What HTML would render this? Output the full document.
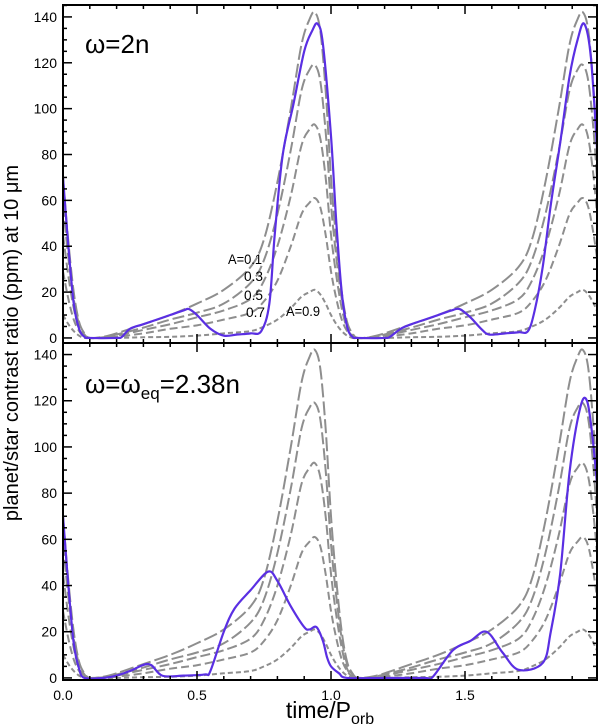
<!DOCTYPE html>
<html><head><meta charset="utf-8">
<style>
html,body{margin:0;padding:0;background:#fff;}
svg{display:block;font-family:"Liberation Sans",sans-serif;}
</style></head>
<body>
<svg id="chart" width="600" height="725" viewBox="0 0 600 725">
<defs>
<clipPath id="clipTop"><rect x="63" y="5" width="534" height="338"/></clipPath>
<clipPath id="clipBot"><rect x="63" y="343" width="534" height="337"/></clipPath>
</defs>
<g id="top"></g>
<g id="bot"></g>
<text x="18" y="343" font-size="20" text-anchor="middle" transform="rotate(-90 18 343)">planet/star contrast ratio (ppm) at 10 μm</text>
<text x="330" y="718" font-size="23" text-anchor="middle">time/P<tspan font-size="16" dy="6">orb</tspan></text>
<text x="85" y="53" font-size="26">ω=2n</text>
<text x="85" y="393" font-size="26">ω=ω<tspan font-size="17" dy="6">eq</tspan><tspan dy="-6">=2.38n</tspan></text>
<text x="228" y="264" font-size="14" textLength="34" lengthAdjust="spacingAndGlyphs">A=0.1</text>
<text x="244" y="281" font-size="14" textLength="19" lengthAdjust="spacingAndGlyphs">0.3</text>
<text x="244" y="300" font-size="14" textLength="19" lengthAdjust="spacingAndGlyphs">0.5</text>
<text x="246" y="317" font-size="14" textLength="19" lengthAdjust="spacingAndGlyphs">0.7</text>
<text x="286" y="316" font-size="14" textLength="34" lengthAdjust="spacingAndGlyphs">A=0.9</text>
</svg>
<script>
// one-period gray model curves (t within a cycle)
const grayT   = [0,0.02,0.04,0.06,0.08,0.1,0.15,0.2,0.3,0.4,0.5,0.6,0.7,0.75,0.8,0.85,0.89,0.92,0.94,0.96,0.98];
const grayA01 = [70,42,20,7,2,0,0.5,2,6,10,15,21,31,43,68,100,128,139,142,134,108];
const grayA03 = [58,35,17,6,1.5,0,0.3,1.5,4.5,8,11,15,24,34,54,82,108,117,119,112,90];
const grayA05 = [45,27,13,4,1,0,0.2,1,3.5,6,9,12,17,25,40,62,84,91,93,87,70];
const grayA07 = [29,17,8,3,0.5,0,0,0.5,2,4,5.5,8,11,16,25,40,54,59,61,57,45];
const grayA09 = [10,6,3,1,0,0,0,0,0.3,0.5,1,2,3,5,8,13,18,20,21,19,15];
const grayLabels = ["a-0.1","a-0.3","a-0.5","a-0.7","a-0.9"];
// top panel blue (omega = 2n)
const topBlueT = [0,0.02,0.04,0.06,0.08,0.1,0.2,0.22,0.25,0.3,0.35,0.4,0.45,0.47,0.5,0.55,0.6,0.65,0.7,0.74,0.77,0.79,0.82,0.86,0.9,0.93,0.95,0.97,1.0,1.02,1.04,1.06,1.08,1.1,1.2,1.22,1.26,1.3,1.35,1.4,1.45,1.48,1.52,1.56,1.59,1.65,1.7,1.735,1.76,1.79,1.82,1.855,1.89,1.92,1.945,1.97,1.995];
const topBlueV = [70,40,15,4,0.5,0,0,0.5,4,6,8,10,12,12.6,10,4,1,1.5,2,3,15,45,80,102,125,134,137,128,88,50,20,5,0.5,0,0,0.5,4,6,8,10,12,12.6,9,4,1.5,2,2.5,3,12,31,58,85,114,130,137,122,78];
// bottom panel blue (omega = omega_eq)
const botBlueT = [0,0.02,0.04,0.06,0.08,0.15,0.2,0.25,0.32,0.37,0.45,0.53,0.55,0.6,0.64,0.7,0.765,0.8,0.85,0.9,0.92,0.946,0.97,0.985,1.0,1.03,1.06,1.2,1.35,1.38,1.455,1.52,1.58,1.64,1.70,1.79,1.82,1.855,1.89,1.93,1.955,1.975,1.995];
const botBlueV = [70,40,15,4,0,0,1,3,6,1,1,1.5,3,20,30,38,46,42,31,22,21,22,16,9,5,2,0,0,0,0.5,12,16,20,11,3.5,6.5,20,45,89,117,120,105,81];
// tick labels
const yTicks = [0,20,40,60,80,100,120,140];
const xTicks = [0,0.5,1.0,1.5];
const xTickLabels = ["0.0","0.5","1.0","1.5"];

const NS="http://www.w3.org/2000/svg";
const X0=63,X1=597,TMAX=1.9925;
function sx(t){return X0+(t/TMAX)*(X1-X0);}
const panels={
 top:{g:document.getElementById('top'),top:5,bot:343,ymin:-2.2,ymax:145.2,clip:'clipTop'},
 bot:{g:document.getElementById('bot'),top:343,bot:680,ymin:-0.9,ymax:145,clip:'clipBot'}
};
function sy(p,v){return p.bot-(v-p.ymin)/(p.ymax-p.ymin)*(p.bot-p.top);}
function mk(tag,attrs,parent){const e=document.createElementNS(NS,tag);for(const k in attrs)e.setAttribute(k,attrs[k]);parent.appendChild(e);return e;}
function pathFrom(pts){
 let d="M"+pts[0][0].toFixed(2)+","+pts[0][1].toFixed(2);
 for(let i=0;i<pts.length-1;i++){
  const p0=pts[i-1]||pts[i],p1=pts[i],p2=pts[i+1],p3=pts[i+2]||p2;
  const c1=[p1[0]+(p2[0]-p0[0])/6,p1[1]+(p2[1]-p0[1])/6];
  const c2=[p2[0]-(p3[0]-p1[0])/6,p2[1]-(p3[1]-p1[1])/6];
  d+="C"+c1[0].toFixed(2)+","+c1[1].toFixed(2)+" "+c2[0].toFixed(2)+","+c2[1].toFixed(2)+" "+p2[0].toFixed(2)+","+p2[1].toFixed(2);
 }
 return d;
}
const grays=[grayA01,grayA03,grayA05,grayA07,grayA09];
const dashes=["14,4","12,4","10,4","8,4","5,3"];
for(const key of ["top","bot"]){
 const p=panels[key];
 const cg=mk('g',{'clip-path':'url(#'+p.clip+')'},p.g);
 
 
 grays.forEach((arr,i)=>{
  const pts=[];
  for(let k=0;k<3;k++){for(let j=0;j<grayT.length;j++){pts.push([sx(grayT[j]+k),sy(p,arr[j])]);}}
  const el=mk('path',{d:pathFrom(pts),fill:'none',stroke:'#8e8e8e','stroke-width':2,'stroke-dasharray':dashes[i]},cg);
  
  
 });
 const bt=key==="top"?topBlueT:botBlueT, bv=key==="top"?topBlueV:botBlueV;
 const bpts=bt.map((t,j)=>[sx(t),sy(p,bv[j])]);
 const bl=mk('path',{d:pathFrom(bpts),fill:'none',stroke:'#5a2fe3','stroke-width':2.2},cg);
 
 
 for(let v=0;v<=145;v+=5){
  const y=sy(p,v),len=(v%20===0)?9:4;
  mk('line',{x1:X0,x2:X0+len,y1:y,y2:y,stroke:'#000','stroke-width':1.5},p.g);
  mk('line',{x1:X1,x2:X1-len,y1:y,y2:y,stroke:'#000','stroke-width':1.5},p.g);
 }
 for(let i=0;i<=19;i++){
  const t=i*0.1,x=sx(t),len=(i%5===0)?9:4;
  mk('line',{x1:x,x2:x,y1:p.bot,y2:p.bot-len,stroke:'#000','stroke-width':1.5},p.g);
  mk('line',{x1:x,x2:x,y1:p.top,y2:p.top+len,stroke:'#000','stroke-width':1.5},p.g);
 }
 yTicks.forEach(v=>{
  const t=mk('text',{x:57,y:sy(p,v)+5,'font-size':14,'text-anchor':'end'},p.g);
  t.textContent=v;
  
  
 });
 const fr=mk('rect',{x:X0,y:p.top,width:X1-X0,height:p.bot-p.top,fill:'none',stroke:'#000','stroke-width':2},p.g);
 
 
}
const svg=document.getElementById('chart');
xTicks.forEach((t,i)=>{
 const e=mk('text',{x:sx(t),y:700,'font-size':14,'text-anchor':'middle'},svg);
 e.textContent=xTickLabels[i];
 
 
});
</script>
</body></html>
